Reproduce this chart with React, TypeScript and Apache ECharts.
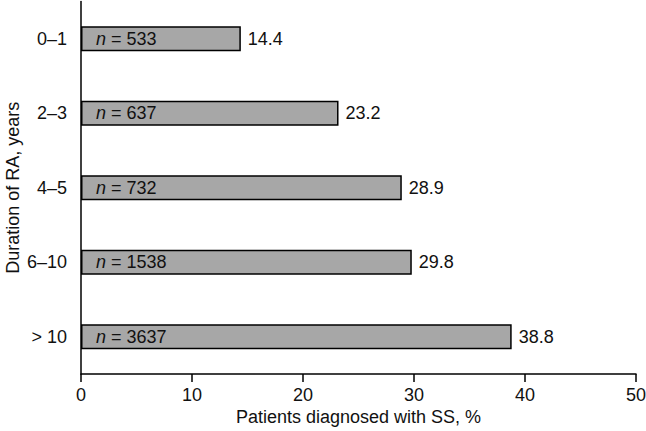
import React, { useEffect, useRef } from "react";
import * as echarts from "echarts";

const categories = ["0–1", "2–3", "4–5", "6–10", "> 10"];
const percentValues = [14.4, 23.2, 28.9, 29.8, 38.8];
const nValues = [533, 637, 732, 1538, 3637];
const xTicks = { min: 0, max: 50, interval: 10 };

const FONT = "'Liberation Sans', Arial, Helvetica, sans-serif";
const TEXT = "#111";
const FS = 18;

export default function App() {
  const ref = useRef<HTMLDivElement>(null);
  useEffect(() => {
    if (!ref.current) return;
    const chart = echarts.init(ref.current, undefined, { renderer: "svg" });
    chart.setOption({
      animation: false,
      backgroundColor: "#fff",
      textStyle: { fontFamily: FONT, color: TEXT },
      grid: { left: 81, right: 10, top: 1.5, bottom: 57, containLabel: false, outerBoundsMode: "none" },
      xAxis: {
        type: "value",
        min: xTicks.min,
        max: xTicks.max,
        interval: xTicks.interval,
        name: "Patients diagnosed with SS, %",
        nameLocation: "middle",
        nameGap: 34,
        nameMoveOverlap: false,
        nameTextStyle: { fontSize: FS, color: TEXT, fontFamily: FONT },
        axisLine: { show: true, lineStyle: { color: "#000", width: 1.5 } },
        axisTick: { show: true, length: 8, lineStyle: { color: "#000", width: 1.5 } },
        axisLabel: { fontSize: FS, color: TEXT, margin: 12, fontFamily: FONT },
        splitLine: { show: false },
      },
      yAxis: {
        type: "category",
        inverse: true,
        data: categories,
        name: "Duration of RA, years",
        nameLocation: "middle",
        nameGap: 59,
        nameMoveOverlap: false,
        nameTextStyle: { fontSize: FS, color: TEXT, fontFamily: FONT },
        axisLine: { show: true, lineStyle: { color: "#000", width: 1.5 } },
        axisTick: { show: false },
        axisLabel: { fontSize: FS, color: TEXT, margin: 14, fontFamily: FONT },
        splitLine: { show: false },
      },
      series: [
        {
          type: "bar",
          data: percentValues,
          barWidth: 25,
          itemStyle: { color: "#a7a7a7", borderColor: "#000", borderWidth: 1.5 },
          label: {
            show: true,
            position: "right",
            distance: 7,
            fontSize: FS,
            color: TEXT,
            fontFamily: FONT,
            formatter: (p: any) => percentValues[p.dataIndex].toFixed(1),
          },
          z: 2,
        },
        {
          type: "bar",
          data: percentValues,
          barWidth: 25,
          barGap: "-100%",
          itemStyle: { color: "rgba(0,0,0,0)", borderWidth: 0 },
          label: {
            show: true,
            position: "insideLeft",
            distance: 15,
            fontSize: FS,
            color: TEXT,
            fontFamily: FONT,
            formatter: (p: any) => `{i|n} = ${nValues[p.dataIndex]}`,
            rich: {
              i: { fontStyle: "italic", fontSize: FS, color: TEXT, fontFamily: FONT },
            },
          },
          z: 3,
        },
      ],
    });
    return () => chart.dispose();
  }, []);
  return (
    <div
      ref={ref}
      style={{ position: "absolute", left: 0, top: 0, width: 646, height: 431 }}
    />
  );
}
